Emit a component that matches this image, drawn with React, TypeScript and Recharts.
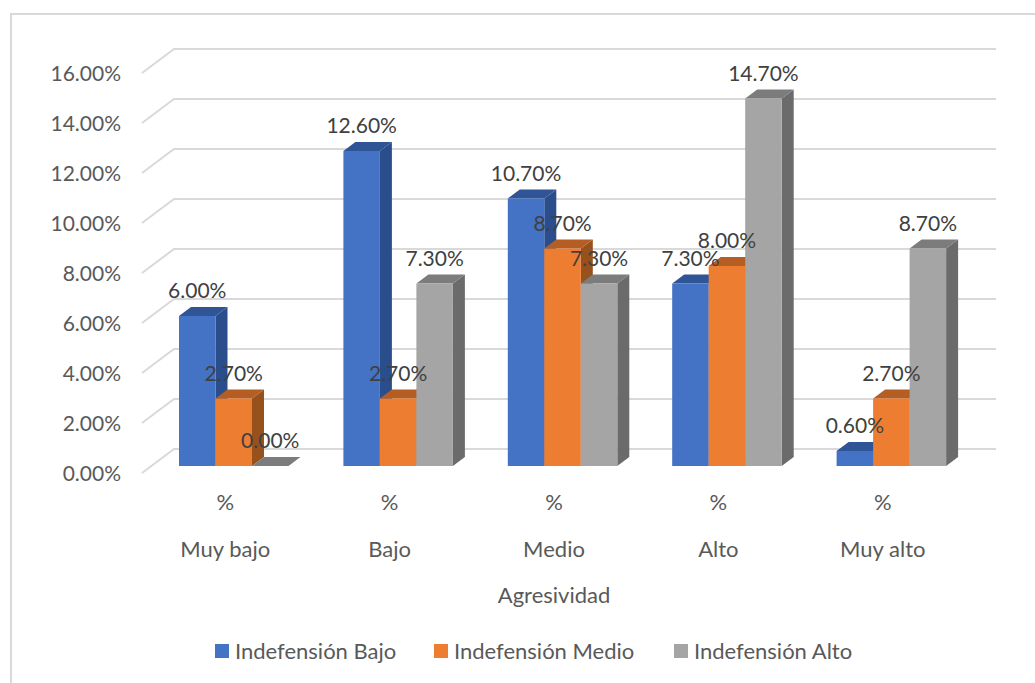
import { BarChart, Bar, XAxis, YAxis, CartesianGrid, Legend, LabelList } from "recharts";

const categories = ["Muy bajo", "Bajo", "Medio", "Alto", "Muy alto"];
const bajoValues = [6.0, 12.6, 10.7, 7.3, 0.6];
const medioValues = [2.7, 2.7, 8.7, 8.0, 2.7];
const altoValues = [0.0, 7.3, 7.3, 14.7, 8.7];
const yTicks = [0, 2, 4, 6, 8, 10, 12, 14, 16];
const seriesNames = ["Indefensión Bajo", "Indefensión Medio", "Indefensión Alto"];

const chartData = categories.map((name, i) => ({
  name,
  bajo: bajoValues[i],
  medio: medioValues[i],
  alto: altoValues[i],
}));

const fontFamily = "Lato, 'Open Sans', sans-serif";
const shiftX = 9;
const shiftY = -7;
const depthX = 12;
const depthY = 9;

function Bar3D({ x, y, width, height, front, side, top }: any) {
  const l = x + shiftX;
  const r = l + width;
  const t = y + shiftY;
  const b = t + height;
  return (
    <g>
      <path
        d={`M${r},${t} L${r + depthX},${t - depthY} L${r + depthX},${b - depthY} L${r},${b} Z`}
        fill={side}
      />
      <path
        d={`M${l},${t} L${l + depthX},${t - depthY} L${r + depthX},${t - depthY} L${r},${t} Z`}
        fill={top}
      />
      <rect x={l} y={t} width={width} height={height} fill={front} />
    </g>
  );
}

function gridLine(props: any) {
  const { x1, y1, key } = props;
  return (
    <path
      key={key}
      d={`M${x1 - 1},${y1} L${x1 + 31},${y1 - 24} L996,${y1 - 24}`}
      fill="none"
      stroke="#d9d9d9"
      strokeWidth={2}
    />
  );
}

function CategoryTick({ x, y, payload }: any) {
  return (
    <g fontFamily={fontFamily} fontSize={22} fill="#595959" textAnchor="middle">
      <text x={x} y={y + 29}>%</text>
      <text x={x} y={y + 76}>{payload.value}</text>
    </g>
  );
}

function ValueLabel({ x, y, width, value }: any) {
  return (
    <text
      x={x + width / 2 + shiftX}
      y={y + shiftY - 18}
      textAnchor="middle"
      fontFamily={fontFamily}
      fontSize={21}
      fill="#404040"
    >
      {`${Number(value).toFixed(2)}%`}
    </text>
  );
}

const legendColors = ["#4472C4", "#ED7D31", "#A5A5A5"];
const legendLefts = [215, 434, 674];

function LegendRow() {
  return (
    <div style={{ position: "relative", height: 24 }}>
      {seriesNames.map((name, i) => (
        <div
          key={name}
          style={{
            position: "absolute",
            left: legendLefts[i],
            top: 0,
            display: "flex",
            alignItems: "center",
            whiteSpace: "nowrap",
            fontFamily,
            fontSize: 22,
            color: "#595959",
            lineHeight: "24px",
          }}
        >
          <span style={{ width: 14, height: 14, background: legendColors[i], marginRight: 6 }} />
          {name}
        </div>
      ))}
    </div>
  );
}

export default function App() {
  return (
    <div style={{ position: "absolute", left: 0, top: 0, width: 1035, height: 683, background: "#fff", overflow: "hidden" }}>
      {/* frame: the reference only shows its top and left edges */}
      <div
        style={{
          position: "absolute",
          left: 10,
          top: 13,
          width: 1025,
          height: 670,
          borderTop: "2px solid #d9d9d9",
          borderLeft: "2px solid #d9d9d9",
          boxSizing: "border-box",
        }}
      />
      <BarChart
        width={1035}
        height={683}
        data={chartData}
        margin={{ top: 73, right: 70, bottom: 56, left: 10 }}
        barSize={36.5}
        barGap={0}
        style={{ position: "absolute", left: 0, top: 0 }}
      >
        <CartesianGrid vertical={false} horizontal={gridLine} />
        <XAxis
          dataKey="name"
          axisLine={false}
          tickLine={false}
          height={130}
          interval={0}
          tick={<CategoryTick />}
          label={{
            value: "Agresividad",
            position: "insideBottom",
            offset: 0,
            fontFamily,
            fontSize: 22,
            fill: "#595959",
          }}
        />
        <YAxis
          type="number"
          domain={[0, 16]}
          ticks={yTicks}
          interval={0}
          width={133}
          axisLine={false}
          tickLine={false}
          tickFormatter={(v: number) => `${v.toFixed(2)}%`}
          tick={{ fontFamily, fontSize: 21, fill: "#595959", dx: -14, dy: 1 }}
        />
        <Legend
          verticalAlign="bottom"
          content={<LegendRow />}
          wrapperStyle={{ position: "absolute", left: 0, top: 639, width: 1035, height: 24 }}
        />
        <Bar
          dataKey="bajo"
          isAnimationActive={false}
          shape={(p: any) => <Bar3D {...p} front="#4472C4" side="#2A4D8B" top="#2F5597" />}
        >
          <LabelList dataKey="bajo" content={<ValueLabel />} />
        </Bar>
        <Bar
          dataKey="medio"
          isAnimationActive={false}
          shape={(p: any) => <Bar3D {...p} front="#ED7D31" side="#97511D" top="#B55E24" />}
        >
          <LabelList dataKey="medio" content={<ValueLabel />} />
        </Bar>
        <Bar
          dataKey="alto"
          isAnimationActive={false}
          shape={(p: any) => <Bar3D {...p} front="#A5A5A5" side="#6B6B6B" top="#7C7C7C" />}
        >
          <LabelList dataKey="alto" content={<ValueLabel />} />
        </Bar>
      </BarChart>
    </div>
  );
}
